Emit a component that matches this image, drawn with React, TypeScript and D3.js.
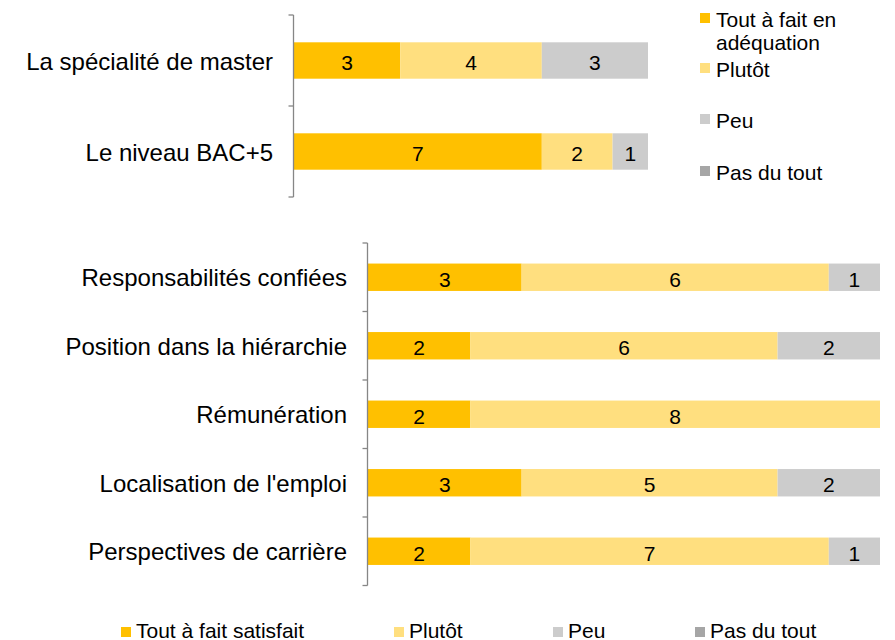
import React from "react";
import * as d3 from "d3";

const seriesNames = ["Tout à fait", "Plutôt", "Peu", "Pas du tout"];
const colors = ["#FFC000", "#FFDF7F", "#CCCCCC", "#A6A6A6"];

const topCategories = ["La spécialité de master", "Le niveau BAC+5"];
const topToutAFait = [3, 7];
const topPlutot = [4, 2];
const topPeu = [3, 1];
const topPasDuTout = [0, 0];

const bottomCategories = [
  "Responsabilités confiées",
  "Position dans la hiérarchie",
  "Rémunération",
  "Localisation de l'emploi",
  "Perspectives de carrière",
];
const bottomToutAFait = [3, 2, 2, 3, 2];
const bottomPlutot = [6, 6, 8, 5, 7];
const bottomPeu = [1, 2, 0, 2, 1];
const bottomPasDuTout = [0, 0, 0, 0, 0];

const topLegendLabels = [["Tout à fait en", "adéquation"], ["Plutôt"], ["Peu"], ["Pas du tout"]];
const bottomLegendLabels = ["Tout à fait satisfait", "Plutôt", "Peu", "Pas du tout"];

const FONT = "'Liberation Sans', Arial, sans-serif";

type PanelProps = {
  cats: string[];
  series: number[][];
  x0: number;
  x1: number;
  y0: number;
  y1: number;
};

function Panel({ cats, series, x0, x1, y0, y1 }: PanelProps) {
  const x = d3.scaleLinear().domain([0, 10]).range([x0, x1]);
  const y = d3.scaleBand<string>().domain(cats).range([y0, y1]).paddingInner(0.6).paddingOuter(0.3);
  const band = d3.scaleBand<string>().domain(cats).range([y0, y1]).padding(0);
  const rows = cats.map((c, i) => series.map((s) => s[i]));
  const stacked = d3.stack<number[]>().keys(seriesNames.map((_, k) => String(k))).value((d, key) => d[+key])(rows as any);
  const ticks = cats.map((c) => band(c)!).concat([y1]);
  const axisX = x0 - 0.5;
  return (
    <g>
      {stacked.map((layer, k) =>
        layer.map((d, i) => {
          const v = d[1] - d[0];
          if (v <= 0) return null;
          const cy = y(cats[i])!;
          return (
            <g key={`${k}-${i}`}>
              <rect x={x(d[0])} y={cy} width={x(d[1]) - x(d[0])} height={y.bandwidth()} fill={colors[k]} />
              <text
                x={(x(d[0]) + x(d[1])) / 2}
                y={cy + y.bandwidth() / 2}
                dy="0.45em"
                textAnchor="middle"
                fontSize={21}
                fontFamily={FONT}
                fill="#000"
              >
                {v}
              </text>
            </g>
          );
        })
      )}
      <line x1={axisX} x2={axisX} y1={y0} y2={y1} stroke="#868686" strokeWidth={1.3} />
      {ticks.map((t, i) => (
        <line key={i} x1={axisX - 5} x2={axisX} y1={t} y2={t} stroke="#868686" strokeWidth={1.3} />
      ))}
      {cats.map((c) => (
        <text
          key={c}
          x={x0 - 21}
          y={y(c)! + y.bandwidth() / 2}
          dy="0.38em"
          textAnchor="end"
          fontSize={24}
          fontFamily={FONT}
          fill="#000"
        >
          {c}
        </text>
      ))}
    </g>
  );
}

export default function App() {
  const topBaselines = [[27, 50], [77], [128], [180]];
  const bottomSquareX = [121, 394, 553, 695];
  return (
    <svg
      width={895}
      height={640}
      style={{ position: "absolute", left: 0, top: 0, background: "#fff" }}
      xmlns="http://www.w3.org/2000/svg"
    >
      <rect width={895} height={640} fill="#fff" />
      <Panel
        cats={topCategories}
        series={[topToutAFait, topPlutot, topPeu, topPasDuTout]}
        x0={294}
        x1={648}
        y0={15}
        y1={197}
      />
      <Panel
        cats={bottomCategories}
        series={[bottomToutAFait, bottomPlutot, bottomPeu, bottomPasDuTout]}
        x0={368}
        x1={880}
        y0={243}
        y1={585.5}
      />
      {topLegendLabels.map((lines, k) => (
        <g key={k}>
          <rect x={700} y={topBaselines[k][0] - 14} width={10} height={10} fill={colors[k]} />
          {lines.map((l, j) => (
            <text key={j} x={716} y={topBaselines[k][j]} fontSize={21} fontFamily={FONT} fill="#000">
              {l}
            </text>
          ))}
        </g>
      ))}
      {bottomLegendLabels.map((l, k) => (
        <g key={k}>
          <rect x={bottomSquareX[k]} y={627} width={10} height={10} fill={colors[k]} />
          <text x={bottomSquareX[k] + 15} y={638} fontSize={21} fontFamily={FONT} fill="#000">
            {l}
          </text>
        </g>
      ))}
    </svg>
  );
}
